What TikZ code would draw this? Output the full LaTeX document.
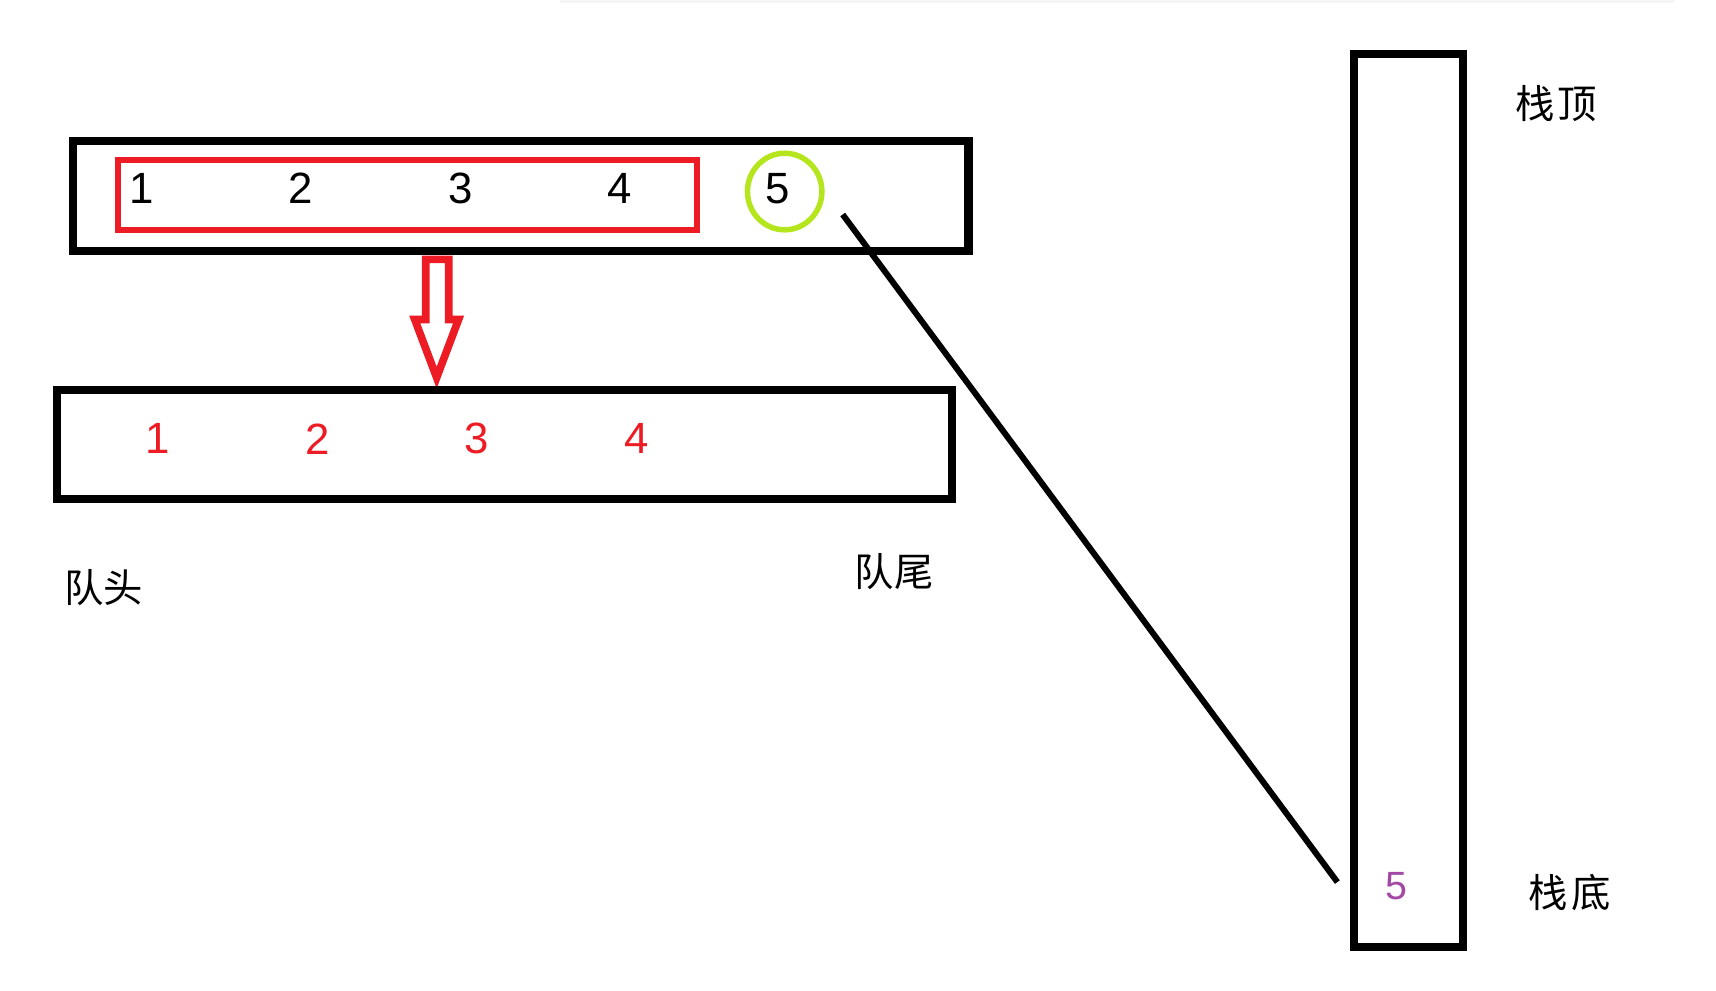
\documentclass[tikz,border=0pt]{standalone}
\usepackage{fontspec}
\setmainfont{Liberation Sans}
\newfontfamily\cjk{Noto Sans CJK SC}
\usetikzlibrary{shapes.geometric}
\definecolor{pred}{HTML}{ED1C24}
\definecolor{pgreen}{HTML}{B5E61D}
\definecolor{ppurple}{HTML}{A349A4}
\begin{document}
\begin{tikzpicture}[x=1pt,y=-1pt,
  box/.style={draw=black, line width=7.5pt, inner sep=0pt, rectangle},
  digit/.style={inner sep=0pt, font=\fontsize{40}{40}\selectfont},
  cjklabel/.style={inner sep=0pt, font=\cjk\fontsize{36}{36}\selectfont}]
\useasboundingbox (0,0) rectangle (1568,905);
\fill[white] (0,0) rectangle (1568,905);
\draw[black!4, line width=3pt] (512,1) -- (1530,1);
% top queue
\node[box, minimum width=818pt, minimum height=100pt] (topq) at (476,179) {};
\node[draw=pred, line width=6pt, inner sep=0pt, minimum width=529pt, minimum height=64pt] (sel) at (372.5,178) {};
\node[digit] (t1) at (129,172) {1};
\node[digit] (t2) at (275,172) {2};
\node[digit] (t3) at (421,172) {3};
\node[digit] (t4) at (566,172) {4};
\node[ellipse, draw=pgreen, line width=5pt, inner sep=0pt, minimum width=68pt, minimum height=70pt] (c5) at (717,175) {};
\node[digit] (t5) at (711,172) {5};
% arrow
\draw[pred, line width=7pt, fill=white, line join=miter]
  (389,237) -- (410,237) -- (410,292) -- (419,292) -- (399,345) -- (379,292) -- (389,292) -- cycle;
% bottom queue
\node[box, minimum width=818pt, minimum height=100pt] (botq) at (461,406) {};
\node[digit, text=pred] (b1) at (144,401) {1};
\node[digit, text=pred] (b2) at (290,401) {2};
\node[digit, text=pred] (b3) at (436,401) {3};
\node[digit, text=pred] (b4) at (582,401) {4};
\node[cjklabel] (head) at (95,537) {队头};
\node[cjklabel] (tail) at (817,522) {队尾};
% stack
\node[box, minimum width=100pt, minimum height=816pt] (stack) at (1287,457) {};
\node[cjklabel] (stop) at (1422,95) {栈\hspace{3pt}顶};
\node[cjklabel] (sbot) at (1434,816) {栈\hspace{3pt}底};
\node[inner sep=0pt, text=ppurple, font=\fontsize{36}{36}\selectfont] (s5) at (1276,810) {5};
% connector
\coordinate (la) at (770,196);
\coordinate (lb) at (1222,806);
\draw[black, line width=5.5pt] (la) -- (lb);
\end{tikzpicture}
\end{document}
